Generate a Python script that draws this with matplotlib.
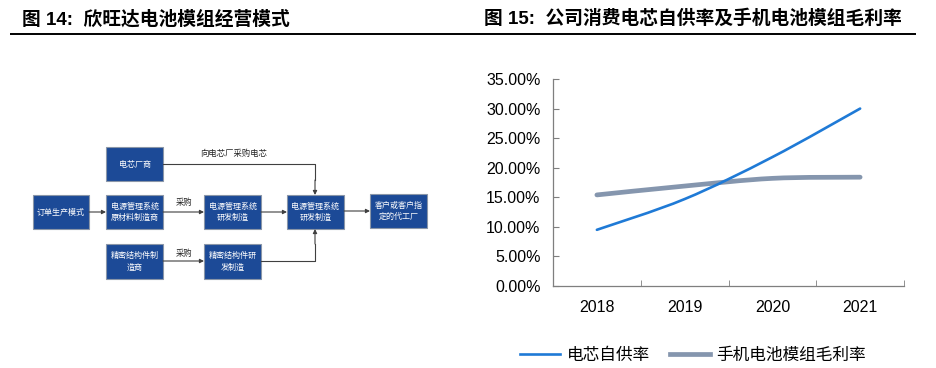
import matplotlib
matplotlib.use("Agg")
import matplotlib.pyplot as plt
from matplotlib.patches import Rectangle, PathPatch
from matplotlib.path import Path
from matplotlib.lines import Line2D

plt.rcParams['font.family'] = ['Liberation Sans', 'Noto Sans CJK SC']

# data for the right chart
years = ['2018', '2019', '2020', '2021']
cell_self_supply = [9.5, 14.7, 21.8, 30.0]      # 电芯自供率 (%)
module_margin = [15.4, 16.9, 18.2, 18.4]        # 手机电池模组毛利率 (%)
series_names = ['电芯自供率', '手机电池模组毛利率']
y_ticks = [0, 5, 10, 15, 20, 25, 30, 35]

# flowchart labels
box_labels = ['订单生产模式', '电芯厂商', '电源管理系统\n原材料制造商', '精密结构件制\n造商',
              '电源管理系统\n研发制造', '精密结构件研\n发制造', '电源管理系统\n研发制造',
              '客户或客户指\n定的代工厂']
buy_label = '采购'
cell_buy_label = '向电芯厂采购电芯'

title_left = '图 14:  欣旺达电池模组经营模式'
title_right = '图 15:  公司消费电芯自供率及手机电池模组毛利率'

W, H = 936, 368
fig = plt.figure(figsize=(W / 100, H / 100), dpi=100)

# overlay axes in pixel coordinates for titles and the flowchart
ov = fig.add_axes([0, 0, 1, 1])
ov.set_xlim(0, W)
ov.set_ylim(H, 0)
ov.axis('off')

title_font = dict(fontsize=13.5, fontweight='bold', va='center', ha='left', color='black')
ov.text(22, 19, title_left, **title_font)
ov.text(484, 19, title_right, **title_font)
ov.plot([10, 916], [34, 34], color='black', lw=1.4, solid_capstyle='butt')

box_face = '#1C4A97'
box_edge = '#8a96a8'
# (x0, y0, x1, y1) in pixels for each box, same order as box_labels
box_pos = [(33, 195, 89, 229), (106, 147, 163, 181), (106, 195, 163, 229),
           (106, 244, 163, 279), (204, 195, 261, 229), (204, 244, 261, 279),
           (287, 195, 344, 229), (370, 194, 427, 228)]
for (x0, y0, x1, y1), lab in zip(box_pos, box_labels):
    ov.add_patch(Rectangle((x0, y0), x1 - x0, y1 - y0, facecolor=box_face,
                           edgecolor=box_edge, lw=0.8))
    ov.text((x0 + x1) / 2, (y0 + y1) / 2, lab, color='white', fontsize=5.8,
            ha='center', va='center', linespacing=1.35, family='Noto Sans CJK SC')

line_col = '#404040'
arrow = dict(arrowstyle='-|>', color=line_col, lw=0.8, mutation_scale=6,
             shrinkA=0, shrinkB=0)

def arr(x0, y0, x1, y1):
    ov.annotate('', xy=(x1, y1), xytext=(x0, y0), arrowprops=arrow)

arr(89, 212, 106, 212)
arr(163, 212, 204, 212)
arr(261, 212, 287, 212)
arr(344, 211, 370, 211)
arr(163, 261, 204, 261)
# cell maker line to the right box (top)
ov.plot([163, 315, 315], [164, 164, 180], color=line_col, lw=0.8)
arr(315, 180, 315, 195)
# structure part line to the right box (bottom)
ov.plot([261, 315, 315], [261, 261, 244], color=line_col, lw=0.8)
arr(315, 244, 315, 229)

lab_font = dict(fontsize=6, color='#222222', ha='center', va='center', family='Noto Sans CJK SC')
ov.text(234, 153, cell_buy_label, **lab_font)
ov.text(184, 202, buy_label, **lab_font)
ov.text(184, 253, buy_label, **lab_font)

# right line chart
ax = fig.add_axes([553 / W, 1 - 286 / H, (904 - 553) / W, (286 - 79) / H])
ax.set_xlim(-0.5, 3.5)
ax.set_ylim(0, 35)

blue = '#1F7AD6'
grey = '#8596AE'

def smooth_path(xs, ys):
    # Catmull-Rom style bezier through the data points (like Excel smoothed lines)
    pts = list(zip(xs, ys))
    verts = [pts[0]]
    codes = [Path.MOVETO]
    n = len(pts)
    for i in range(n - 1):
        p0 = pts[max(i - 1, 0)]
        p1 = pts[i]
        p2 = pts[i + 1]
        p3 = pts[min(i + 2, n - 1)]
        c1 = (p1[0] + (p2[0] - p0[0]) / 6, p1[1] + (p2[1] - p0[1]) / 6)
        c2 = (p2[0] - (p3[0] - p1[0]) / 6, p2[1] - (p3[1] - p1[1]) / 6)
        verts += [c1, c2, p2]
        codes += [Path.CURVE4] * 3
    return Path(verts, codes)

xs = list(range(len(years)))
ax.add_patch(PathPatch(smooth_path(xs, module_margin), fill=False, edgecolor=grey,
                       lw=3.4, capstyle='round', transform=ax.transData, zorder=3))
ax.add_patch(PathPatch(smooth_path(xs, cell_self_supply), fill=False, edgecolor=blue,
                       lw=1.9, capstyle='round', transform=ax.transData, zorder=4))

for s in ['top', 'right']:
    ax.spines[s].set_visible(False)
for s in ['left', 'bottom']:
    ax.spines[s].set_color('#7f7f7f')
    ax.spines[s].set_linewidth(0.9)

ax.set_yticks(y_ticks)
ax.set_yticklabels(['%.2f%%' % v for v in y_ticks])
ax.tick_params(axis='y', direction='in', length=4, color='#7f7f7f', labelsize=11.5, pad=9)
ax.set_xticks(xs)
ax.set_xticklabels(years)
ax.set_xticks([-0.5, 0.5, 1.5, 2.5, 3.5], minor=True)
ax.tick_params(axis='x', which='major', length=0, labelsize=11.5, pad=10)
ax.tick_params(axis='x', which='minor', direction='in', length=4, color='#7f7f7f')

handles = [Line2D([], [], color=blue, lw=1.9), Line2D([], [], color=grey, lw=3.4)]
fig.legend(handles, series_names, loc='center', bbox_to_anchor=(693 / W, 1 - 355 / H),
           ncol=2, frameon=False, fontsize=12, handlelength=2.4, handletextpad=0.4,
           columnspacing=1.2, prop={'family': 'Noto Sans CJK SC', 'size': 12})

fig.savefig('out.png', dpi=100)
